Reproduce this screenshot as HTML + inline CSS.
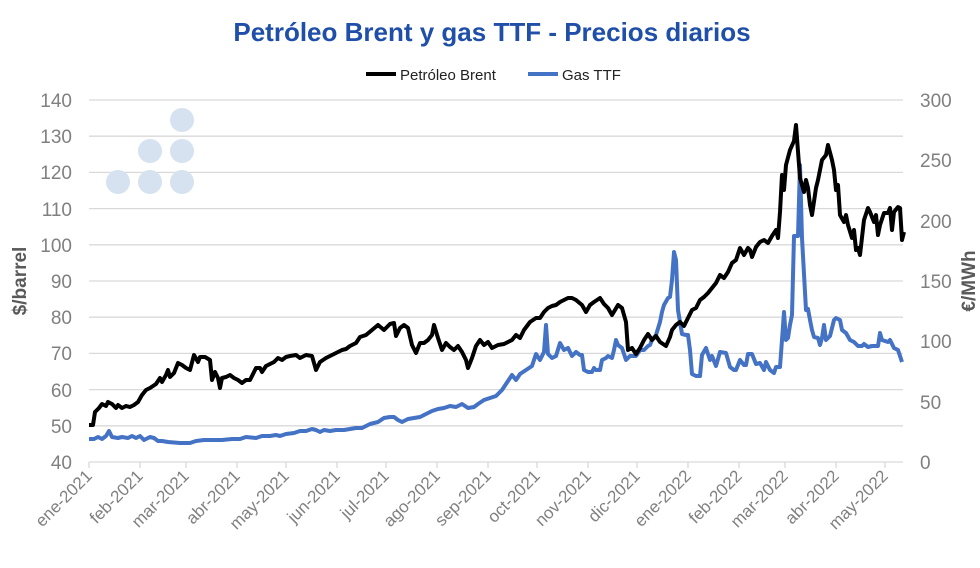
<!DOCTYPE html>
<html><head><meta charset="utf-8"><style>
body{margin:0;background:#fff;}
svg{display:block;font-family:"Liberation Sans",sans-serif;}
</style></head><body>
<svg width="980" height="568" viewBox="0 0 980 568" xmlns="http://www.w3.org/2000/svg">
<rect width="980" height="568" fill="#fff"/>
<text x="492" y="41" text-anchor="middle" font-size="26" font-weight="bold" fill="#1f4fa8">Petróleo Brent y gas TTF - Precios diarios</text>
<line x1="366" y1="74" x2="396" y2="74" stroke="#000" stroke-width="4"/>
<text x="400" y="80" font-size="15" fill="#222">Petróleo Brent</text>
<line x1="528" y1="74" x2="558" y2="74" stroke="#4472c4" stroke-width="4"/>
<text x="562" y="80" font-size="15" fill="#222">Gas TTF</text>
<g stroke="#d9d9d9" stroke-width="1.3">
<line x1="89" x2="903" y1="100" y2="100"/><line x1="89" x2="903" y1="136.2" y2="136.2"/><line x1="89" x2="903" y1="172.4" y2="172.4"/><line x1="89" x2="903" y1="208.6" y2="208.6"/><line x1="89" x2="903" y1="244.8" y2="244.8"/><line x1="89" x2="903" y1="281" y2="281"/><line x1="89" x2="903" y1="317.2" y2="317.2"/><line x1="89" x2="903" y1="353.4" y2="353.4"/><line x1="89" x2="903" y1="389.6" y2="389.6"/><line x1="89" x2="903" y1="425.8" y2="425.8"/><line x1="89" x2="903" y1="462" y2="462"/>
<line x1="89" x2="89" y1="462" y2="468"/><line x1="140" x2="140" y1="462" y2="468"/><line x1="186" x2="186" y1="462" y2="468"/><line x1="237" x2="237" y1="462" y2="468"/><line x1="286" x2="286" y1="462" y2="468"/><line x1="337" x2="337" y1="462" y2="468"/><line x1="386" x2="386" y1="462" y2="468"/><line x1="437" x2="437" y1="462" y2="468"/><line x1="488" x2="488" y1="462" y2="468"/><line x1="537" x2="537" y1="462" y2="468"/><line x1="588" x2="588" y1="462" y2="468"/><line x1="637" x2="637" y1="462" y2="468"/><line x1="688" x2="688" y1="462" y2="468"/><line x1="739" x2="739" y1="462" y2="468"/><line x1="785" x2="785" y1="462" y2="468"/><line x1="836" x2="836" y1="462" y2="468"/><line x1="885" x2="885" y1="462" y2="468"/>
</g>
<g font-size="19" fill="#808080" text-anchor="end">
<text x="72" y="107">140</text><text x="72" y="143">130</text><text x="72" y="179">120</text><text x="72" y="216">110</text><text x="72" y="252">100</text><text x="72" y="288">90</text><text x="72" y="324">80</text><text x="72" y="360">70</text><text x="72" y="397">60</text><text x="72" y="433">50</text><text x="72" y="469">40</text>
</g>
<g font-size="19" fill="#808080" text-anchor="start">
<text x="920" y="107">300</text><text x="920" y="167">250</text><text x="920" y="228">200</text><text x="920" y="288">150</text><text x="920" y="348">100</text><text x="920" y="409">50</text><text x="920" y="469">0</text>
</g>
<text transform="translate(26,281) rotate(-90)" font-size="19" font-weight="bold" fill="#595959" text-anchor="middle">$/barrel</text>
<text transform="translate(975,281) rotate(-90)" font-size="19" font-weight="bold" fill="#595959" text-anchor="middle">€/MWh</text>
<g font-size="17" fill="#808080" text-anchor="end">
<text transform="translate(93,477) rotate(-45)">ene-2021</text>
<text transform="translate(144,477) rotate(-45)">feb-2021</text>
<text transform="translate(190,477) rotate(-45)">mar-2021</text>
<text transform="translate(241,477) rotate(-45)">abr-2021</text>
<text transform="translate(290,477) rotate(-45)">may-2021</text>
<text transform="translate(341,477) rotate(-45)">jun-2021</text>
<text transform="translate(390,477) rotate(-45)">jul-2021</text>
<text transform="translate(441,477) rotate(-45)">ago-2021</text>
<text transform="translate(492,477) rotate(-45)">sep-2021</text>
<text transform="translate(541,477) rotate(-45)">oct-2021</text>
<text transform="translate(592,477) rotate(-45)">nov-2021</text>
<text transform="translate(641,477) rotate(-45)">dic-2021</text>
<text transform="translate(692,477) rotate(-45)">ene-2022</text>
<text transform="translate(743,477) rotate(-45)">feb-2022</text>
<text transform="translate(789,477) rotate(-45)">mar-2022</text>
<text transform="translate(840,477) rotate(-45)">abr-2022</text>
<text transform="translate(889,477) rotate(-45)">may-2022</text>
</g>
<g fill="#d6e2f0">
<circle cx="118" cy="182" r="12"/><circle cx="150" cy="182" r="12"/><circle cx="182" cy="182" r="12"/><circle cx="150" cy="151" r="12"/><circle cx="182" cy="151" r="12"/><circle cx="182" cy="120" r="12"/>
</g>
<polyline fill="none" stroke="#4472c4" stroke-width="4" stroke-linejoin="round" points="89,439 94,439 98,437 102,439 106,436 109,431 112,437 118,438 122,437 128,438 132,436 136,438 140,436 144,440 150,437 154,438 158,441 162,441 168,442 180,443 190,443 196,441 204,440 212,440 222,440 232,439 240,439 246,437 256,438 262,436 270,436 276,435 280,436 286,434 294,433 300,431 306,431 312,429 316,430 320,432 324,430 330,431 336,430 344,430 350,429 356,428 362,428 366,426 370,424 378,422 384,418 390,417 394,417 398,420 402,422 408,419 414,418 420,417 426,414 432,411 438,409 444,408 450,406 456,407 462,404 468,408 474,407 478,404 484,400 490,398 496,396 502,390 506,384 510,378 512,375 516,380 520,374 526,370 532,366 536,354 540,360 544,352 546,325 548,354 552,358 556,356 560,343 564,350 568,348 572,356 576,352 580,355 582,355 584,370 588,372 592,372 594,368 596,370 600,370 602,360 606,358 608,356 612,358 614,350 616,340 618,345 622,348 626,360 628,358 630,356 634,356 636,356 640,350 644,350 648,346 650,345 652,340 656,335 660,322 662,312 664,305 668,298 670,297 672,280 674,252 676,260 678,310 682,334 686,335 688,335 690,350 692,374 696,376 700,376 702,355 706,348 710,360 712,356 716,366 720,352 726,353 730,367 734,370 736,370 740,360 744,365 746,365 748,354 752,354 756,364 760,363 764,370 766,362 770,370 774,373 776,367 780,367 782,340 784,312 786,340 788,338 790,325 792,315 794,236 798,236 800,165 802,238 806,310 808,309 810,320 812,330 814,337 818,338 820,345 822,338 824,325 826,340 830,336 834,320 836,318 840,320 842,330 846,333 850,340 854,342 858,346 862,346 864,344 868,347 872,346 878,346 880,333 882,340 888,342 890,340 892,344 894,348 896,349 898,350 902,362"/>
<polyline fill="none" stroke="#000" stroke-width="4" stroke-linejoin="round" points="89,425 93,425 95,412 99,408 102,404 106,406 108,402 112,404 116,408 118,405 122,408 126,406 130,407 134,405 138,402 142,395 146,390 150,388 156,384 160,378 162,382 166,375 168,370 170,377 174,373 178,363 182,365 186,368 190,370 194,355 198,362 200,357 205,357 210,360 212,380 215,372 218,378 220,388 222,378 226,377 230,375 234,378 238,380 242,383 246,380 250,380 256,368 260,368 262,372 266,366 270,364 274,362 278,358 282,360 286,357 290,356 296,355 300,358 306,355 312,356 316,370 320,362 326,358 332,355 338,352 342,350 346,349 350,346 356,343 360,337 366,335 372,330 378,325 384,330 390,324 394,323 396,336 400,328 404,325 408,328 412,345 416,353 420,343 424,343 428,340 432,335 434,325 438,338 442,350 446,343 450,347 454,350 458,346 462,352 466,360 468,368 472,358 476,346 480,340 484,345 488,342 492,348 498,345 504,344 508,342 512,340 516,335 520,338 524,330 530,322 536,318 540,318 544,312 548,308 552,306 556,305 560,302 564,300 568,298 572,298 576,300 582,305 586,312 590,305 594,302 600,298 604,304 608,308 612,315 618,305 622,308 626,322 628,350 632,348 636,354 640,348 644,340 648,334 652,340 656,336 660,342 666,346 670,337 672,330 676,325 680,322 684,326 688,318 692,310 696,308 700,300 704,297 708,293 712,288 716,283 720,275 724,278 728,272 732,263 736,260 740,248 744,255 748,248 750,250 752,257 756,247 760,242 764,240 768,243 772,236 776,230 778,238 780,212 782,175 784,190 786,165 790,150 794,141 796,125 800,178 804,192 806,180 808,188 810,205 812,215 816,188 818,180 820,170 822,160 826,155 828,145 832,160 834,170 836,190 838,185 840,215 844,222 846,215 848,225 852,238 854,230 856,250 858,248 860,255 864,220 868,208 870,212 874,222 876,215 878,235 880,225 884,213 888,213 890,208 892,230 894,212 898,207 900,208 902,240 904,232"/>
</svg>
</body></html>
